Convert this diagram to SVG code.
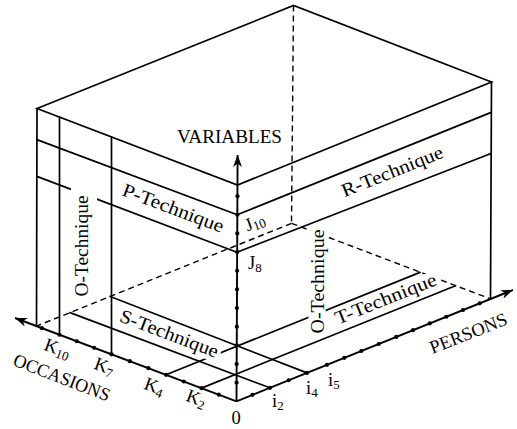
<svg xmlns="http://www.w3.org/2000/svg" width="517" height="429" viewBox="0 0 517 429">
<defs>
<marker id="arr" viewBox="-13 -6 14 12" refX="0" refY="0" markerWidth="14" markerHeight="12" orient="auto" markerUnits="userSpaceOnUse">
<path d="M0,0 L-12,-4.5 L-8.5,0 L-12,4.5 Z" fill="#000"/>
</marker>
</defs>
<style>
.ln{stroke:#000;stroke-width:1.7;fill:none;stroke-linecap:round}
.ax{stroke:#000;stroke-width:1.9;fill:none}
.ds{stroke:#000;stroke-width:1.4;fill:none;stroke-dasharray:6 4}
.bg{fill:#fff;stroke:none}
text{font-family:"Liberation Serif","Times New Roman",serif;fill:#000}
.lb{font-size:19px}
.ax-l{font-size:18.5px}
.sym{font-size:18.5px}
.sub{font-size:13px}
.dot{fill:#000}
</style>
<rect width="517" height="429" fill="#fff"/>

<g id="hidden-edges">
<line class="ds" x1="293.5" y1="5.5" x2="291.5" y2="223.3"/>
<line class="ds" x1="291.5" y1="223.3" x2="36.5" y2="326.1"/>
<line class="ds" x1="291.5" y1="223.3" x2="490.5" y2="298.9"/>
</g>

<g id="box">
<path class="ln" d="M37,108.5 L293.5,5.5 L491.5,82 L237.5,185 Z"/>
<line class="ln" x1="37" y1="108.5" x2="36.5" y2="326.1"/>
<line class="ln" x1="491.5" y1="82" x2="490.5" y2="298.9"/>
</g>

<g id="connectors">
<line class="ln" x1="36.8" y1="139.6" x2="237.2" y2="214.8"/>
<line class="ln" x1="36.9" y1="176.4" x2="236.9" y2="252.3"/>
<line class="ln" x1="59.5" y1="117.1" x2="59.5" y2="334.7"/>
<line class="ln" x1="111.5" y1="136.9" x2="111.5" y2="354.3"/>
<line class="ln" x1="237.2" y1="214.8" x2="491.2" y2="112.4"/>
<line class="ln" x1="236.9" y1="252.3" x2="491" y2="153.5"/>
<line class="ln" x1="110.2" y1="296.5" x2="307" y2="372.9"/>
<line class="ln" x1="70" y1="312.6" x2="270" y2="387.8"/>
<line class="ln" x1="166" y1="374.8" x2="420" y2="272.4"/>
<line class="ln" x1="201.5" y1="388.1" x2="455.5" y2="285.7"/>
</g>

<g id="axes">
<line class="ax" x1="236.5" y1="401.3" x2="237.6" y2="155" marker-end="url(#arr)"/>
<line class="ax" x1="236.5" y1="401.3" x2="15" y2="318" marker-end="url(#arr)"/>
<line class="ax" x1="236.5" y1="401.3" x2="513" y2="289.9" marker-end="url(#arr)"/>
<g id="ticks-occasions" class="dot">
<circle cx="218.8" cy="394.64" r="2.1"/><circle cx="201.5" cy="388.14" r="2.1"/><circle cx="183.8" cy="381.48" r="2.1"/><circle cx="166" cy="374.79" r="2.1"/><circle cx="148.4" cy="368.17" r="2.1"/><circle cx="129.9" cy="361.22" r="2.1"/><circle cx="111.5" cy="354.3" r="2.1"/><circle cx="94.2" cy="347.8" r="2.1"/><circle cx="76.8" cy="341.25" r="2.1"/><circle cx="59.5" cy="334.75" r="2.1"/><circle cx="41.9" cy="328.13" r="2.1"/>
</g>
<g id="ticks-persons" class="dot">
<circle cx="252.5" cy="394.85" r="2.1"/><circle cx="270" cy="387.8" r="2.1"/><circle cx="288.7" cy="380.26" r="2.1"/><circle cx="307" cy="372.89" r="2.1"/><circle cx="327" cy="364.83" r="2.1"/><circle cx="344.3" cy="357.86" r="2.1"/><circle cx="361.3" cy="351.01" r="2.1"/><circle cx="378.7" cy="343.99" r="2.1"/><circle cx="396.3" cy="336.9" r="2.1"/><circle cx="413" cy="330.17" r="2.1"/><circle cx="429.7" cy="323.44" r="2.1"/><circle cx="446.3" cy="316.75" r="2.1"/><circle cx="463" cy="310.02" r="2.1"/><circle cx="479.7" cy="303.29" r="2.1"/>
</g>
<g id="ticks-variables" class="dot">
<circle cx="236.59" cy="382.65" r="2.1"/><circle cx="236.67" cy="364" r="2.1"/><circle cx="236.76" cy="345.35" r="2.1"/><circle cx="236.85" cy="326.7" r="2.1"/><circle cx="236.93" cy="308.05" r="2.1"/><circle cx="237.02" cy="289.4" r="2.1"/><circle cx="237.1" cy="270.75" r="2.1"/><circle cx="237.19" cy="252.1" r="2.1"/><circle cx="237.28" cy="233.45" r="2.1"/><circle cx="237.36" cy="214.8" r="2.1"/><circle cx="237.45" cy="196.15" r="2.1"/>
</g>
</g>

<g id="o-technique-left">
<rect class="bg" x="71" y="187" width="26" height="111"/>
<text class="lb" transform="translate(87.5,246) rotate(-90)" text-anchor="middle" textLength="101" lengthAdjust="spacingAndGlyphs">O-Technique</text>
</g>
<g id="o-technique-right">
<rect class="bg" x="308.4" y="226" width="17.2" height="111"/>
<text class="lb" transform="translate(323.8,281.5) rotate(-90)" text-anchor="middle" textLength="104" lengthAdjust="spacingAndGlyphs">O-Technique</text>
</g>
<g id="p-technique">
<text class="lb" transform="translate(171,214) rotate(20.7)" text-anchor="middle" textLength="107" lengthAdjust="spacingAndGlyphs">P-Technique</text>
</g>
<g id="r-technique">
<text class="lb" transform="translate(394.5,177.2) rotate(-21.9)" text-anchor="middle" textLength="108" lengthAdjust="spacingAndGlyphs">R-Technique</text>
</g>
<g id="s-technique" transform="translate(167,339.5) rotate(20.8)">
<rect class="bg" x="-55" y="-14.5" width="110" height="19"/>
<text class="lb" text-anchor="middle" textLength="104" lengthAdjust="spacingAndGlyphs">S-Technique</text>
</g>
<g id="t-technique" transform="translate(388,304.5) rotate(-21.95)">
<rect class="bg" x="-56" y="-14.5" width="113" height="19"/>
<text class="lb" text-anchor="middle" textLength="108" lengthAdjust="spacingAndGlyphs">T-Technique</text>
</g>

<g id="axis-labels">
<text class="ax-l" x="177" y="143" textLength="105" lengthAdjust="spacingAndGlyphs">VARIABLES</text>
<text class="ax-l" transform="translate(12,365) rotate(21)" textLength="102" lengthAdjust="spacingAndGlyphs">OCCASIONS</text>
<text class="ax-l" transform="translate(432.5,354) rotate(-21.5)" textLength="82" lengthAdjust="spacingAndGlyphs">PERSONS</text>
</g>

<g id="tick-labels">
<text class="sym" x="236" y="424" text-anchor="middle">0</text>
<text class="sym" transform="translate(43,349.5) rotate(20)">K<tspan class="sub" dy="3">10</tspan></text>
<text class="sym" transform="translate(93,368.5) rotate(20)">K<tspan class="sub" dy="3">7</tspan></text>
<text class="sym" transform="translate(143,388.5) rotate(20)">K<tspan class="sub" dy="3">4</tspan></text>
<text class="sym" transform="translate(185,400.5) rotate(20)">K<tspan class="sub" dy="3">2</tspan></text>
<text class="sym" x="272" y="407">i<tspan class="sub" dy="3">2</tspan></text>
<text class="sym" x="306" y="394">i<tspan class="sub" dy="3">4</tspan></text>
<text class="sym" x="328" y="385.5">i<tspan class="sub" dy="3">5</tspan></text>
<text class="sym" transform="translate(247.5,231.5) rotate(-21)">J<tspan class="sub" dy="2">10</tspan></text>
<text class="sym" x="248" y="268.5">J<tspan class="sub" dy="3">8</tspan></text>
</g>
</svg>
